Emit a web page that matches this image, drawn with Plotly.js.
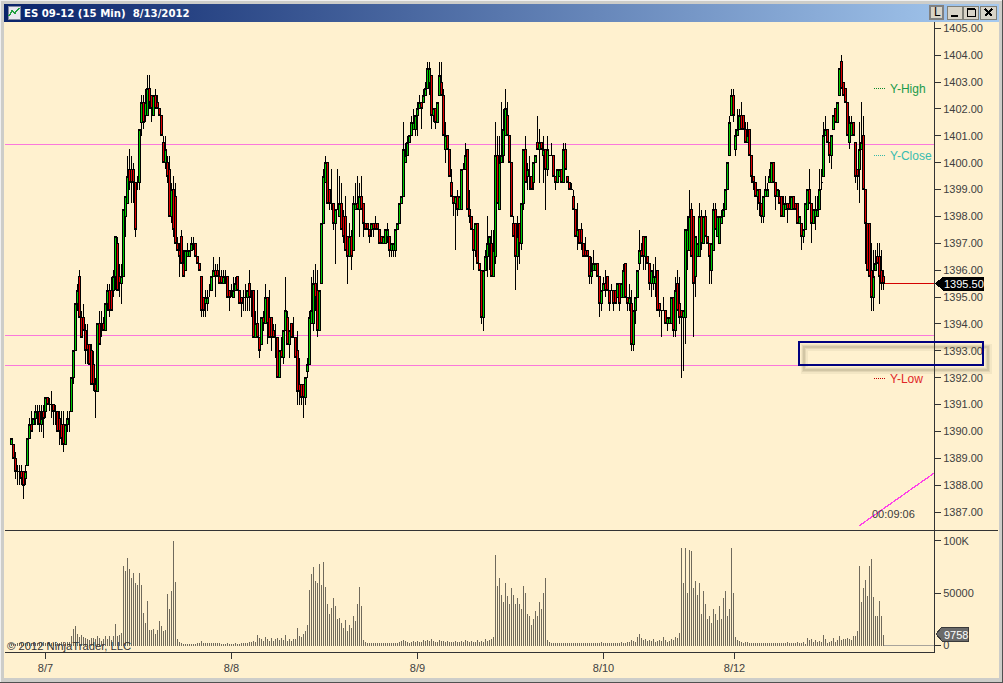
<!DOCTYPE html>
<html><head><meta charset="utf-8">
<script src="https://cdn.plot.ly/plotly-3.0.1.min.js"></script>
<style>
html,body{margin:0;padding:0;background:#cfcfcb;overflow:hidden}
#frame{position:absolute;left:0;top:0;width:1003px;height:683px;background:#cdcdc9;box-shadow:inset -1px -1px 0 #505050,inset 1px 1px 0 #f0f0f0}
#bar{position:absolute;left:4px;top:4px;width:995px;height:18px;background:linear-gradient(90deg,#0a246a,#a6caf0)}
#pane{position:absolute;left:4px;top:22px;width:995px;height:656px;background:#fff1cf}
#plot{position:absolute;left:0;top:0;width:1003px;height:683px}
.boxes path,.barlayer path,.shapelayer path,.layer-above path{shape-rendering:crispEdges}
</style></head><body>
<div id="frame"><div id="bar"></div><div id="pane"></div></div>
<div id="plot"></div>
<script>
const opens=[
1389.5,1389.5,1389,1388.5,1388.5,1388.5,1388.5,1388.25,1388.75,1389.75,
1390.25,1390.25,1390.5,1390.75,1390.75,1390.25,1390.75,1390.75,1391.25,1391,
1391,1391,1390.75,1390.75,1390.5,1390.25,1390.25,1389.5,1390.25,1390.75,
1390.75,1392,1393,1394.75,1395.75,1394.25,1394.25,1393.75,1393.25,1393.25,
1393,1392.5,1391.75,1391.5,1394,1394,1394,1393.75,1394.75,1395.25,
1395.25,1395.25,1395.75,1397,1395.75,1395.5,1395.75,1398,1398.5,1399.75,
1399.75,1399.75,1399.25,1399.25,1399.25,1401.5,1402.25,1401.75,1401.75,1402.75,
1402.5,1401.75,1402.5,1402.25,1402,1401.75,1400.75,1400,1400,1399.75,
1398,1399,1398.75,1397,1396.75,1397.25,1396.25,1396,1396.5,1396.5,
1396.75,1397,1397,1396.5,1396.25,1395.75,1395,1394.75,1394.75,1395.25,
1395.25,1395.75,1396,1396,1395.75,1395.75,1395.5,1395.5,1395.75,1395.25,
1395.25,1395,1395.25,1395.75,1395.25,1395,1395,1395.25,1395,1395.5,
1395.25,1395.25,1393.5,1394,1393.5,1393.25,1394.25,1394,1395,1394.25,
1394.25,1393.75,1393.5,1393.5,1392,1393,1392.75,1393.75,1394.25,1393.25,
1394,1393.5,1393.5,1393,1391.75,1391.75,1391.75,1391.25,1392.25,1392.5,
1394,1394,1395.5,1395.25,1393.75,1395.5,1397.75,1399.25,1400,1399,
1398.5,1398.5,1397.75,1398.25,1398,1398.5,1398,1398,1397.25,1396.5,
1397.25,1396.75,1398.25,1398.5,1398.25,1398.75,1398.5,1397.75,1397.75,1397.5,
1397.5,1397.75,1397.75,1397.75,1397.5,1397.25,1397,1397,1397.25,1397.25,
1396.75,1396.75,1396.75,1397.5,1397.75,1398.5,1398.75,1400,1400.25,1400.75,
1401,1401.25,1401.25,1401.75,1402,1402.25,1402.25,1402.5,1402.75,1403,
1403.25,1401.75,1402,1401.5,1402.5,1403,1402.5,1400.5,1401,1400.5,
1399.25,1398.75,1398.5,1398.75,1398.25,1398.25,1399.75,1399.75,1400.5,1398.25,
1398,1397.5,1396.75,1397.75,1396.25,1396,1394.25,1396,1396.5,1397,
1397,1395.75,1396.5,1400.25,1398.25,1400,1400.25,1401,1401.75,1401,
1400,1397.75,1397.75,1396.5,1397.75,1397,1398.5,1400.5,1399.5,1399.5,
1399.5,1399.25,1400,1400.75,1400.5,1400.75,1400.25,1400.5,1399.75,1400.25,
1400.25,1400.25,1399.5,1399.25,1399.5,1399.75,1399.25,1400.5,1399.5,1399.25,
1399,1398.75,1398.25,1397.25,1397.5,1397.5,1397,1396.75,1396.75,1396.5,
1395.75,1396,1396,1396.25,1395.75,1394.75,1395.25,1395.5,1395.75,1395.25,
1395.25,1395.25,1395.25,1395,1395.5,1395,1395,1396.25,1395,1394.75,
1394.75,1393.25,1394.5,1395,1396.25,1396.75,1397.25,1396.5,1396.5,1396.25,
1395.5,1395.5,1395.5,1396,1394.75,1394.5,1394.5,1394.5,1394,1394,
1394,1395,1393.75,1395.5,1394.75,1394.5,1394.25,1394.25,1396.75,1396.75,
1398.25,1398,1395.75,1396.5,1396.5,1398,1397,1398,1397.25,1397,
1396,1396.75,1398.25,1397.25,1397,1397.75,1398,1398.25,1399,1400.25,
1401.75,1402.5,1400.5,1401,1401.25,1401.75,1401.75,1401.25,1400.75,1401.25,
1400.25,1399.5,1399.25,1398.75,1399,1398.5,1398,1398.75,1398.75,1399.25,
1399.25,1400,1399.25,1398.75,1398.75,1398.75,1398,1398.25,1398.5,1398.5,
1398.25,1398.75,1398.5,1398.5,1397.75,1397.75,1397.25,1397.5,1398.25,1399,
1398.5,1397.75,1398,1398,1398.25,1399.25,1399.5,1401,1401.25,1400.75,
1400.25,1401.25,1402,1401.5,1402.5,1403.75,1403,1402.75,1402.25,1400.75,
1401,1401.5,1400.75,1399.75,1399.75,1400.5,1401,1399,1397.75,1397.75,
1396,1395,1396,1396.5,1396.5,1396,1395.75];
const highs=[
1389.75,1389.5,1389.25,1388.75,1388.75,1388.75,1388.5,1388.75,1389.75,1390.5,
1390.75,1390.5,1391,1391,1391,1391,1391,1391.25,1391.25,1391.25,
1391.5,1391,1391,1390.75,1390.75,1390.75,1390.75,1390.25,1390.75,1390.75,
1392,1393,1394.75,1395.5,1396,1394.5,1394.75,1394,1394,1393.25,
1393.25,1393,1392,1394,1394.5,1394.5,1394.25,1394.75,1395.5,1395.5,
1395.75,1396,1397.25,1397.25,1396.25,1396.25,1398.25,1398.75,1400.25,1400.5,
1400.25,1400,1399.25,1399.5,1401.25,1402.5,1402.5,1402.75,1403.25,1403.25,
1402.5,1402.5,1402.75,1402.5,1402,1401.75,1401,1401,1400.25,1400.25,
1399.25,1399.5,1399.25,1397.25,1397,1397.5,1396.75,1396.75,1397,1396.75,
1397.25,1397.25,1397,1396.5,1396.25,1395.75,1395,1395.25,1395.25,1395.5,
1395.75,1396.5,1396.25,1396.25,1396.5,1396,1396,1396,1395.75,1395.25,
1395.5,1395.75,1395.75,1395.75,1395.25,1395,1395.25,1395.5,1395.25,1396,
1395.25,1395.25,1394.5,1395.25,1393.5,1394.25,1394.5,1395.5,1395,1395.25,
1394.25,1394,1394,1393.5,1393,1393.5,1393.75,1395.75,1394.5,1393.75,
1394,1394.25,1393.5,1393.75,1392.75,1391.75,1391.75,1392,1392.75,1394.5,
1395.75,1396,1396.25,1396,1395.25,1397.75,1399.75,1400.25,1400,1399,
1399.75,1398.5,1398.25,1399.75,1399.5,1399.25,1398.25,1398.75,1397.25,1397.75,
1397.5,1398.75,1399.25,1399.5,1399.25,1399.5,1398.5,1397.75,1397.75,1397.5,
1397.75,1397.75,1398,1397.75,1397.5,1397.25,1397.25,1397.5,1397.75,1397.25,
1397,1397,1397.5,1397.75,1398.5,1398.75,1401.5,1400.75,1401,1401,
1401.75,1402,1401.75,1402.25,1402.5,1402.25,1402.75,1403,1403.75,1403.75,
1403.25,1402,1402,1402.25,1403.75,1403.75,1402.75,1401.5,1401,1400.5,
1399.75,1398.75,1398.75,1399,1398.75,1399.75,1400,1400.75,1400.5,1399,
1398,1397.5,1397.75,1397.75,1396.25,1396,1396,1396.75,1398,1397.25,
1397.5,1397.5,1401.5,1401,1401,1402.25,1402,1402.75,1402.25,1401,
1400,1398,1397.75,1398,1397.75,1398.5,1400.5,1401,1400,1400.25,
1399.5,1400,1400.25,1401.75,1401.25,1400.75,1401,1400.5,1401,1400.25,
1400.75,1400.25,1399.5,1399.75,1399.75,1399.75,1400.75,1400.75,1399.5,1399.25,
1399.25,1399,1398.25,1398.5,1397.5,1397.75,1397,1397.25,1396.75,1396.5,
1396.5,1396.75,1396.25,1396.25,1395.75,1395.25,1395.75,1396,1395.75,1395.25,
1395.5,1395.25,1395.25,1395.5,1395.5,1395.5,1396.25,1396.25,1395,1395.5,
1395.25,1394.5,1395,1396,1397.5,1397,1397.25,1397.25,1396.5,1396.25,
1396,1396.25,1396.5,1396,1394.75,1394.5,1395,1394.5,1394.25,1394.25,
1395,1395,1395.75,1396,1395.75,1394.5,1394.5,1397.5,1398,1399,
1398.5,1398,1397.25,1397,1398.5,1398.25,1398,1398.25,1397.25,1397,
1397,1398.5,1398.5,1398,1398,1398.25,1398.5,1399,1400,1401.75,
1402.75,1402.75,1401.25,1402,1402,1402.25,1401.75,1401.5,1401.5,1401.25,
1400.25,1399.5,1399.25,1399,1399,1398.5,1398.75,1399.5,1399.25,1399.75,
1400,1400,1399.25,1399,1399,1398.75,1398.75,1398.75,1398.5,1398.75,
1398.75,1398.75,1398.5,1398.5,1398,1397.75,1397.5,1398.5,1399,1399.75,
1398.5,1398.25,1398.75,1398.75,1399.75,1399.75,1401.5,1401.75,1401.25,1400.75,
1401,1401.75,1402,1402.25,1403.5,1404,1403,1402.75,1402.25,1401.75,
1401.75,1401.5,1400.75,1399.75,1401.5,1402.25,1401.75,1399,1397.75,1397.75,
1397,1396.75,1396.75,1397,1397,1396.75,1396];
const lows=[
1389.5,1389,1388.25,1388,1388,1388,1387.5,1388,1388.75,1389.75,
1390,1390.25,1390.25,1390.25,1390,1390,1389.75,1390.5,1391,1390.75,
1390.5,1390.25,1390.25,1390,1389.5,1389.5,1389.25,1389.5,1390,1390,
1390.75,1391.75,1393,1394.5,1394.25,1393.5,1393.75,1392.5,1392.5,1392.5,
1391.75,1391.5,1390.5,1391.5,1393.25,1393.5,1393.75,1393.75,1394.5,1394.25,
1394.5,1395,1395.25,1395.25,1395,1394.75,1395.75,1397.25,1398.5,1399,
1398.5,1398.5,1397.25,1399,1399,1401,1401.25,1401.5,1401.75,1402,
1401.5,1401.75,1402,1402,1401.75,1401,1400,1399.75,1399.25,1398,
1397.75,1397.25,1397,1396.75,1395.75,1396.25,1395.75,1396,1396.5,1396.5,
1396.75,1396.75,1396.5,1396.25,1396,1394.25,1394.25,1394.25,1394.5,1395,
1395.25,1395.75,1395,1395.75,1395.5,1395.5,1395.5,1395.5,1395,1394.5,
1395,1395,1395.25,1395.25,1394.75,1394.25,1394.5,1394.5,1394.5,1394.5,
1394.25,1393.5,1393.5,1393.5,1392.75,1393.25,1393.75,1394,1393.25,1393.5,
1393,1393.5,1392.75,1392,1392,1392.75,1392.5,1393.75,1393.25,1392.75,
1393.5,1393.5,1392.75,1391,1391,1391,1390.5,1391,1392,1392.5,
1394,1393.75,1394.5,1393.5,1393.75,1395.5,1397.75,1399.25,1398.5,1398.25,
1398.25,1397.5,1396.25,1398.25,1398,1397.5,1397,1396.75,1395.5,1396.5,
1396,1396.75,1398.25,1398.25,1397.25,1398.25,1397.25,1397.5,1397.5,1397,
1397.25,1397.25,1397.5,1397.5,1397,1397,1397,1397,1397,1396.5,
1396.5,1396.5,1396.5,1397.5,1397.75,1398.5,1398.75,1400,1400.25,1400.75,
1401,1401.25,1401,1401,1402,1401.25,1402.25,1402.5,1402.75,1402.5,
1401.25,1401.5,1401.25,1401.5,1402.5,1402.5,1401,1400,1400.5,1399.5,
1398.75,1398,1396.75,1398,1398.25,1398.25,1399.75,1399.75,1398.25,1397.75,
1397.5,1396,1396.5,1396.25,1396,1394,1393.75,1396,1395.75,1396,
1395.75,1395.75,1396.25,1398.5,1398.25,1400,1400,1401,1401,1400,
1398,1397.25,1395.25,1396,1396.25,1396.75,1398.25,1399.25,1399,1399,
1399,1399,1400,1400.5,1399.25,1400.5,1399.25,1398.25,1399.5,1400.25,
1400.25,1399.5,1399,1399.25,1399.5,1399.25,1399.25,1399.75,1399.25,1399,
1399,1398.25,1397.25,1396.75,1397,1396.75,1396.5,1396.5,1396.5,1395.5,
1395.5,1396,1396,1395.75,1394.25,1394.5,1395.25,1395,1395.25,1394.5,
1395.25,1394.5,1394.75,1395,1394.5,1395,1395,1395,1394.5,1394.5,
1393,1393,1394,1395,1396,1396.5,1396,1396,1396.25,1395.25,
1395,1395.25,1395,1394.5,1394.25,1393.5,1394.5,1394,1393.75,1394,
1394,1393.5,1393.5,1394.5,1394,1392,1392.25,1393.25,1396,1396.75,
1396.5,1393.5,1395,1396.5,1396.5,1396.75,1397,1397.25,1397,1395.5,
1395.5,1396.75,1397.5,1397.25,1397,1397.75,1398,1398.25,1399,1400.25,
1401.75,1401.5,1400.25,1401,1401.25,1401.25,1401.25,1400.75,1400.75,1400.25,
1399.25,1399,1398.75,1398.25,1398,1397.75,1397.75,1398.75,1398.75,1399.25,
1399.25,1399.25,1398.25,1398.75,1398.5,1398,1398,1398.25,1397.75,1398.25,
1398.25,1398.25,1398.25,1397.75,1397.75,1396.75,1397,1397.5,1398.25,1398.5,
1397,1397.75,1397.5,1398,1398.25,1399,1399.5,1401,1400.75,1400,
1399.75,1401.25,1401.5,1401.5,1402.5,1402.75,1402.5,1402.25,1401,1400.5,
1401,1401,1399.25,1399,1398.5,1400.5,1399,1396.25,1396,1395.75,
1394.5,1394.5,1396,1396.25,1394.75,1395.25,1395.25];
const closes=[
1389.75,1389,1388.5,1388.5,1388.5,1388.25,1388,1388.5,1389.75,1390.25,
1390,1390.5,1390.75,1390.75,1390.25,1390.5,1390.5,1391.25,1391,1391,
1391,1390.75,1390.75,1390,1390,1389.75,1389.5,1390.25,1390.5,1390.75,
1392,1393,1394.75,1395.25,1394.25,1393.5,1393.75,1393,1393,1392.5,
1391.75,1391.75,1391.5,1394,1393.25,1394,1393.75,1394.75,1395.25,1394.5,
1394.5,1395.75,1397.25,1395.25,1395.5,1395.75,1398.25,1398.75,1399.5,1399.25,
1399.25,1399.25,1397.5,1399.25,1401.25,1402.25,1401.5,1402.25,1402.75,1402.25,
1402,1402.5,1402,1402,1401.75,1401,1400,1400.5,1399.5,1398,
1399,1397.5,1397,1396.75,1396.5,1396.25,1395.75,1396.75,1396.75,1396.75,
1397,1397,1396.5,1396.25,1396,1394.5,1394.5,1395,1395,1395.25,
1395.75,1396,1395.75,1395.75,1395.5,1395.5,1395.75,1395.5,1395,1395,
1395.25,1395.25,1395.5,1395.25,1394.75,1394.75,1395,1395.25,1395.25,1395,
1395.25,1393.5,1394,1393.5,1393,1394.25,1394,1395,1394,1393.5,
1393.5,1393.5,1393.5,1392,1393,1392.75,1393.75,1394.5,1393.25,1393.75,
1393.5,1393.5,1392.75,1391.5,1391.5,1391.25,1391.25,1392,1392.5,1394.25,
1394.5,1395.5,1395,1393.75,1395.25,1397.75,1399.5,1400,1398.5,1398.5,
1398.5,1397.75,1398.25,1398.25,1398.5,1397.5,1397.25,1396.75,1396.5,1397.25,
1396.5,1398.5,1398.5,1398.25,1398.75,1398.25,1397.75,1397.5,1397.5,1397.25,
1397.75,1397.5,1397.5,1397.5,1397,1397,1397.25,1397.5,1397.5,1396.75,
1397,1397,1397.5,1397.75,1398.5,1398.75,1400.5,1400.25,1400.75,1401,
1401.5,1401.5,1401.75,1402,1402.25,1402,1402.5,1402.75,1403.5,1403.5,
1401.75,1402,1401.5,1402.25,1403.25,1402.5,1401,1401,1400.5,1399.5,
1398.75,1398.5,1398.75,1398.25,1398.75,1399.75,1399.75,1400.25,1398.25,1398,
1397.5,1396.75,1397.75,1396.25,1396,1394.25,1396,1396.5,1397,1397.25,
1395.75,1396.75,1400.25,1398.5,1400,1400.25,1401.25,1402,1401,1400,
1398,1397.25,1396.5,1397.25,1397,1398.5,1400.5,1399.25,1399.75,1399.5,
1399,1400,1400.25,1400.5,1400.75,1400.5,1400.5,1399.75,1400.5,1400.25,
1400.25,1399.5,1399.25,1399.75,1399.75,1399.25,1400.5,1399.75,1399.25,1399,
1399,1398.25,1397.25,1397.5,1397,1397,1396.5,1396.5,1396.5,1395.75,
1396,1396.25,1396.25,1395.75,1394.75,1395.25,1395.5,1395.25,1395.25,1394.75,
1395.25,1394.75,1394.75,1395.5,1394.75,1395.5,1396,1395,1394.75,1395,
1393.25,1394.5,1395,1396,1396.75,1396.5,1396.5,1397.25,1396.25,1395.5,
1396,1395.75,1395.75,1394.5,1394.5,1394.5,1394.5,1394,1394.25,1394.25,
1395,1393.75,1395.25,1394.5,1394.25,1394.25,1394.5,1397.5,1397.5,1398,
1396.5,1395.5,1397.25,1397,1398,1397,1398,1397.25,1397,1396.5,
1397,1398.25,1397.5,1398,1398,1398,1398.25,1399,1400,1401.5,
1402.5,1401.75,1401,1401.25,1401.75,1401.25,1401.25,1400.75,1401,1400.25,
1399.5,1399.25,1398.75,1399,1398.5,1398,1398.75,1399,1399,1399.5,
1400,1399.25,1398.75,1399,1398.5,1398,1398.5,1398.5,1398.25,1398.25,
1398.75,1398.25,1398.25,1397.75,1398,1397.25,1397.5,1398.5,1399,1398.5,
1397.75,1398.25,1398.25,1398.25,1399,1399.25,1401,1401.25,1400.75,1400.25,
1401,1401.75,1401.5,1402.25,1403.5,1402.75,1402.5,1402.25,1401,1401.5,
1401.5,1401,1399.5,1399.5,1400.5,1400.75,1399,1397.75,1396,1395.75,
1395,1395.75,1396.25,1396.25,1395.75,1395.5,1395.5];
const volumeK=[
1.5,1.5,1.5,2,2,2,1.5,2,2.5,2,
2,2.5,2,2.5,2,2.5,3,2,2.5,3,
2,2.5,3,2,2.5,3,3,2.5,3,3.5,
9,15.6,18.5,11,8.3,10,8,7,6,5,
7,7,6,9,7,4,6,9,6,9,
5,9,21,9,10,12,76,71,84,73,
65,69,60,58,69,58,31,22,43,15,
15,16,11,15,23,19,14,15,49,35,
52,100,61,6,3,2,1.5,1.5,1.5,1.5,
1.5,1.5,1.5,2,2,4,2.5,2.5,2.5,2.5,
2.5,2,2,2,2,1.5,1.5,1.5,2,1.5,
1.5,1.5,2,1.5,1.5,2,2,2.5,2.5,3.5,
3,4,3,10,7,6,4,8,6,4,
7,4,6,7,5,7,5,10,4,6,
4,6,6,17,9,8,11,14,20,53,
68,75,62,60,78,58,80,56,40,30,
36,45,38,25,26,22,17,24,14,20,
17,28,23,40,56,38,5,3,2.5,2.5,
2,2,2,2,2,2,2,2,2,2,
2,2,2.5,2.5,3,4,5,4,3,2.5,
3,4,3,4,3,3,5,4,5,4,
6,4,3,3,5,4,4,3,4,3,
3,3,4,3,3,4,3,5,4,3,
4,3,3,5,3,4,3,6,4,5,
6,8,87,57,65,48,42,60,47,40,
55,48,40,45,40,35,57,50,30,28,
20,25,33,28,42,35,50,65,5,3,
2.5,2,2,2,2,2,2,2,2,2,
2,2,2,2,2,2.5,2,2,2,2.5,
2,2,2.5,2,2,3,2,2,2,2.5,
2,2,2.5,2,2,3,2.5,2.5,3,3,
5,4,3,8,11,7,5,6,4,5,
4,6,3,4,5,4,8,5,3,4,
6,5,8,7,12,93,60,93,50,91,
90,55,62,48,60,30,52,40,25,28,
22,35,30,24,38,25,45,52,28,35,
93,50,8,5,4,3,2,3,3,2.5,
2,2,2,2,2,2,2,2,2,2,
2,2,2.5,2,2,2,2,2,3,2,
2.5,2,2.5,3,2.5,2,3,1,7,5,
6,3,5,3,4,3,10,6,2,3,
4,7,3,5,9,5,6,6,7,6,
5,9,9,14,76,41.5,55,63,47,76,
83,46,28,28,43,28,9.758];
const barIndex=opens.map((_,i)=>i);
const dateTickBars=[17,110,203,296,361.5];
const dateTickLabels=['8/7','8/8','8/9','8/10','8/12'];
const priceTicks=[1387,1388,1389,1390,1391,1392,1393,1394,1395,1396,1397,1398,1399,1400,1401,1402,1403,1404,1405];
const volTicks=[0,50,100];
const volTickLabels=['0','50000','100K'];
const yClose=1400.677, level2=1393.571, yLow=1392.455, lastPrice=1395.5;

const W=1003,H=683;
const px=x=>x/W, py=y=>1-y/H;
const FONT='"Liberation Sans",Arial,sans-serif';
const rect=(x0,y0,x1,y1,line,fill,lw)=>({type:'rect',xref:'paper',yref:'paper',x0:px(x0),x1:px(x1),y0:py(y0),y1:py(y1),line:{color:line,width:lw===undefined?1:lw},fillcolor:fill||'rgba(0,0,0,0)'});
const seg=(x0,y0,x1,y1,c,w)=>({type:'line',xref:'paper',yref:'paper',x0:px(x0),x1:px(x1),y0:py(y0),y1:py(y1),line:{color:c,width:w||1}});
const poly=(pts,line,fill)=>({type:'path',xref:'paper',yref:'paper',path:'M'+pts.map(p=>px(p[0])+','+py(p[1])).join('L')+'Z',line:{color:line,width:1},fillcolor:fill});
const hl=(v,c)=>({type:'line',layer:'below',xref:'paper',yref:'y',x0:px(5),x1:px(934),y0:v,y1:v,line:{color:c,width:1}});
const dots=(v,c)=>({type:'line',xref:'x',yref:'y',x0:431.25,x1:436.75,y0:v,y1:v,line:{color:c,width:1,dash:'1px,1px'}});
const note=(x,y,t,c,o)=>Object.assign({xref:'paper',yref:'paper',x:px(x),y:py(y),text:t,showarrow:false,xanchor:'left',yanchor:'middle',font:{family:FONT,size:12,color:c},borderpad:0},o||{});

const shapes=[
 hl(yClose,'#fa78dc'),hl(level2,'#fa78dc'),hl(yLow,'#fa78dc'),
 {type:'line',layer:'below',xref:'x',yref:'y',x0:436,x1:461.25,y0:lastPrice,y1:lastPrice,line:{color:'#d40000',width:1}},
 {type:'line',layer:'below',xref:'x',yref:'y2',x0:436,x1:461.25,y0:0,y1:0,line:{color:'#a8a49c',width:1}},
 {type:'line',xref:'x',yref:'y',x0:424,x1:461.25,y0:1386.5,y1:1388.45,line:{color:'#ff40e8',width:1.3}},
 dots(1402.76,'#0a8a2a'),dots(1400.27,'#35b8a8'),dots(1391.99,'#c00000'),
 seg(5,530.5,998,530.5,'#333333',1),
 // blurred offset shadow under the navy box
 rect(804,347,988,370,'rgba(90,80,50,0.07)',null,7),
 rect(804,347,988,370,'rgba(90,80,50,0.10)',null,4),
 rect(804,347,988,370,'rgba(90,80,50,0.12)',null,2),
 rect(799,341.5,983,364.5,'#000080',null,2),
 poly([[936,283.5],[943,277],[983,277],[983,290],[943,290]],'#000000','#000000'),
 poly([[936,634],[942,627],[968,627],[968,641],[942,641]],'#3a3a3a','#6a6a6a'),
 // window buttons
 rect(930,6,943,19,'#808080','#d8d4c8',2),
 rect(947.5,6,962,19,'#808078','#d8d4c8',1),
 rect(963.5,6,978.5,19,'#808078','#d8d4c8',1),
 rect(980,6,996,19,'#808078','#d8d4c8',1),
 seg(951,15.5,958,15.5,'#000',2),
 rect(967,9,975,16,'#000','rgba(0,0,0,0)',1),
 seg(967,9,975,9,'#000',2),
 seg(985,9,992,16,'#000',2), seg(992,9,985,16,'#000',2),
 // window icon
 rect(8,6,20,19,'#8088a0','#e8e8f0',1),
 {type:'path',xref:'paper',yref:'paper',path:'M'+[[9,16],[12,11],[15,13],[19,8]].map(p=>px(p[0])+','+py(p[1])).join('L'),line:{color:'#20a040',width:1.5}}
];

const annotations=[
 note(889,89,'Y-High','#1a9a4a'),
 note(889,156,'Y-Close','#38bcb0'),
 note(889,378.5,'Y-Low','#e02828'),
 note(871,514,'00:09:06','#3a3a3a',{font:{family:FONT,size:11,color:'#3a3a3a'}}),
 note(6,646,'© 2012 NinjaTrader, LLC','#333333',{font:{family:FONT,size:11.25,color:'#333333'}}),
 note(943,284,'1395.50','#ffffff',{font:{family:FONT,size:11,color:'#ffffff'}}),
 note(942.5,634.5,'9758','#ffffff',{font:{family:FONT,size:11,color:'#ffffff'}}),
 note(932.5,12.5,'L','#000000')
];

const traces=[
 {type:'candlestick',x:barIndex,open:opens,high:highs,low:lows,close:closes,xaxis:'x',yaxis:'y',
  increasing:{line:{color:'#000000',width:1},fillcolor:'#00c800'},
  decreasing:{line:{color:'#000000',width:1},fillcolor:'#e00000'},
  whiskerwidth:0,hoverinfo:'skip',showlegend:false},
 {type:'bar',x:barIndex,y:volumeK,xaxis:'x',yaxis:'y2',width:0.5,
  marker:{color:'#706a5c',line:{width:0}},hoverinfo:'skip',showlegend:false}
];
const axisFont={family:FONT,size:11,color:'#404040'};
const layout={
 width:W,height:H,autosize:false,
 margin:{l:0,r:0,t:0,b:0,pad:0},
 paper_bgcolor:'rgba(0,0,0,0)',plot_bgcolor:'rgba(0,0,0,0)',
 showlegend:false,boxgap:0,boxgroupgap:0,dragmode:false,
 title:{text:'ES 09-12 (15 Min)\u00a0\u00a08/13/2012',x:24/W,xanchor:'left',y:py(13.5),yanchor:'middle',xref:'paper',yref:'paper',
  font:{family:'"DejaVu Sans Condensed","DejaVu Sans",sans-serif',size:11.3,color:'#ffffff',weight:700},pad:{t:0,b:0,l:0,r:0}},
 xaxis:{domain:[px(5),px(934)],range:[-3.25,461.25],anchor:'y2',type:'linear',rangeslider:{visible:false},
  tickmode:'array',tickvals:dateTickBars,ticktext:dateTickLabels,ticks:'outside',ticklen:6,tickcolor:'#333333',tickwidth:1,
  showgrid:false,zeroline:false,showline:true,linecolor:'#333333',linewidth:1,tickfont:axisFont},
 yaxis:{domain:[py(530),py(22)],range:[1386.336,1405.234],side:'right',anchor:'x',
  tickmode:'array',tickvals:priceTicks,ticktext:priceTicks.map(v=>v.toFixed(2)),ticks:'outside',ticklen:6,tickcolor:'#333333',tickwidth:1,
  showgrid:false,zeroline:false,showline:true,linecolor:'#333333',linewidth:1,tickfont:axisFont},
 yaxis2:{domain:[py(652),py(530)],range:[-6.2,110.5],side:'right',anchor:'x',
  tickmode:'array',tickvals:volTicks,ticktext:volTickLabels,ticks:'outside',ticklen:6,tickcolor:'#333333',tickwidth:1,
  showgrid:false,zeroline:false,showline:true,linecolor:'#333333',linewidth:1,tickfont:axisFont},
 shapes:shapes,annotations:annotations
};
Plotly.newPlot('plot',traces,layout,{displayModeBar:false,staticPlot:true});
</script>
</body></html>
